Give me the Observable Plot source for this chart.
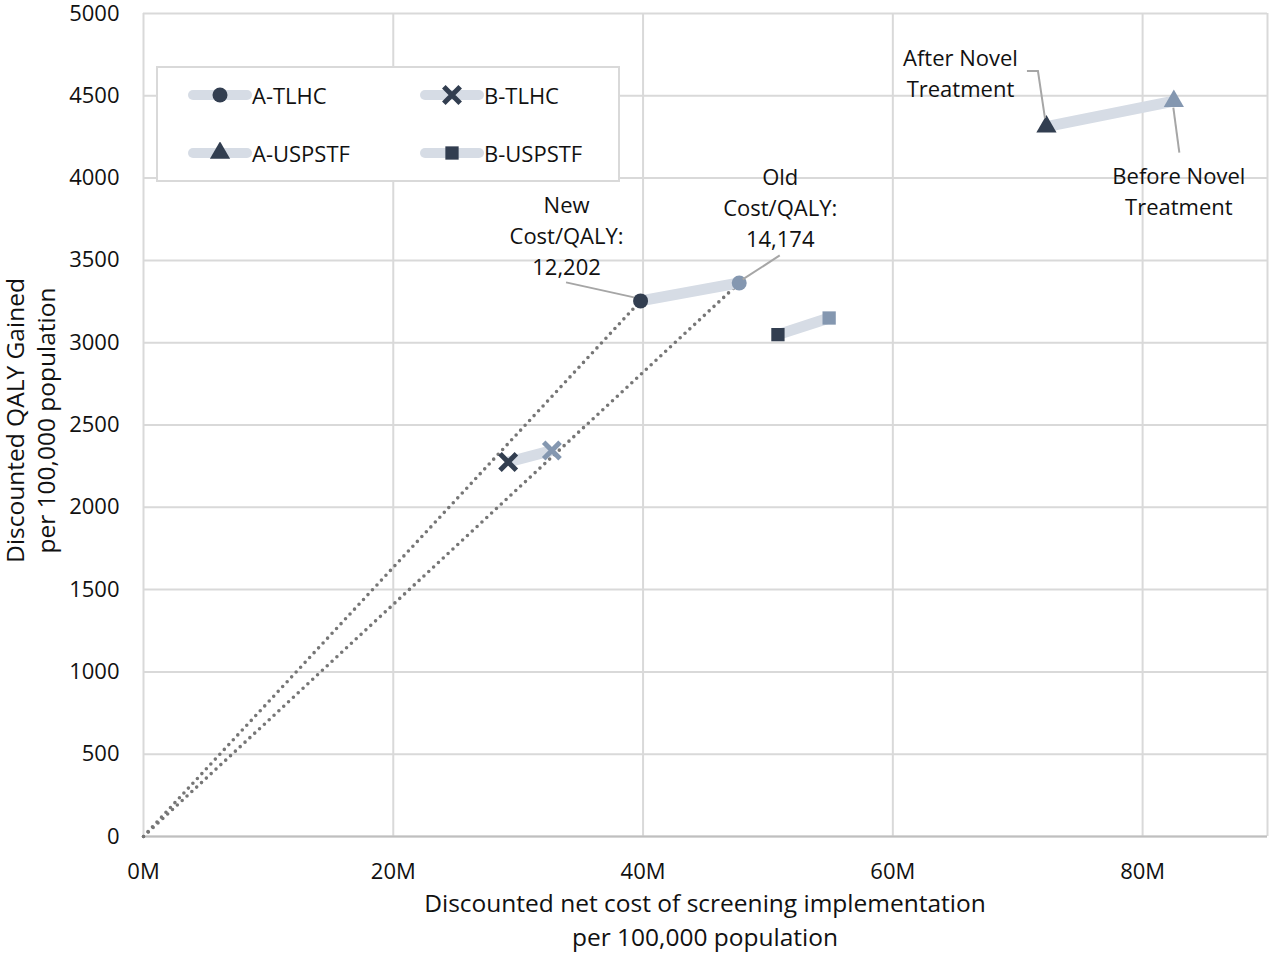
<!DOCTYPE html>
<html>
<head>
<meta charset="utf-8">
<script src="https://cdn.jsdelivr.net/npm/d3@7"></script>
<script src="https://cdn.jsdelivr.net/npm/@observablehq/plot@0.6"></script>
<style>
  html, body { margin: 0; padding: 0; background: #fff; }
  #wrap { position: relative; width: 1269px; height: 955px; font-family: "Open Sans", sans-serif; }
  #chart svg { overflow: visible; }
  #legend { position: absolute; left: 156px; top: 66px; width: 460px; height: 112px; border: 2px solid #d9d9d9; background: #fff; }
  .entry { position: absolute; display: flex; align-items: center; font-size: 22px; color: #111; }
  .entry svg { display: block; }
</style>
</head>
<body>
<div id="wrap"><div id="chart"></div><div id="legend"></div></div>
<script>
// ---- data ----
const series = ["A-TLHC", "B-TLHC", "A-USPSTF", "B-USPSTF"];
const symbols = ["circle", "times", "triangle", "square"];
// After novel treatment (new) — cost in millions, QALY gained
const costAfter = [39.8, 29.2, 72.3, 50.8];
const qalyAfter = [3254, 2275, 4313, 3049];
// Before novel treatment (old)
const costBefore = [47.7, 32.7, 82.5, 54.9];
const qalyBefore = [3363, 2345, 4468, 3150];
const xTicks = [0, 20, 40, 60, 80];
const yTicks = [0, 500, 1000, 1500, 2000, 2500, 3000, 3500, 4000, 4500, 5000];
const xLabel = ["Discounted net cost of screening implementation", "per 100,000 population"];
const yLabel = ["Discounted QALY Gained", "per 100,000 population"];
const noteTexts = ["New\nCost/QALY:\n12,202", "Old\nCost/QALY:\n14,174", "After Novel\nTreatment", "Before Novel\nTreatment"];

// ---- derived tables ----
const rowsAfter = series.map((s, i) => ({series: s, symbol: symbols[i], x: costAfter[i], y: qalyAfter[i]}));
const rowsBefore = series.map((s, i) => ({series: s, symbol: symbols[i], x: costBefore[i], y: qalyBefore[i]}));
const pairs = series.map((s, i) => ({series: s, x1: costAfter[i], y1: qalyAfter[i], x2: costBefore[i], y2: qalyBefore[i]}));
const refLines = [
  {x1: 0, y1: 0, x2: costAfter[0], y2: qalyAfter[0]},
  {x1: 0, y1: 0, x2: costBefore[0], y2: qalyBefore[0]}
];
// annotations anchored to data points; offsets are pixel styling
const notes = [
  {x: costAfter[0], y: qalyAfter[0], text: noteTexts[0], dx: -74, dy: -67, leader: [[-74, -18], [-6, -3]]},
  {x: costBefore[0], y: qalyBefore[0], text: noteTexts[1], dx: 41, dy: -77, leader: [[41, -27], [4, -3]]},
  {x: costAfter[2], y: qalyAfter[2], text: noteTexts[2], dx: -86, dy: -55.5, leader: [[-19, -55], [-8, -55], [-1, -8]]},
  {x: costBefore[2], y: qalyBefore[2], text: noteTexts[3], dx: 5, dy: 88.5, leader: [[0, 7], [6, 52]]}
];

const DARK = "#323e50", LIGHT = "#8497b0", PAIR = "#d6dce5", GRID = "#d9d9d9";
const FONT = "'Open Sans', sans-serif";

const leaders = (index, scales) => {
  const g = d3.create("svg:g");
  for (const n of notes) {
    const px = scales.x(n.x), py = scales.y(n.y);
    g.append("path")
      .attr("d", d3.line()(n.leader.map(([a, b]) => [px + a, py + b])))
      .attr("fill", "none").attr("stroke", "#a6a6a6").attr("stroke-width", 2);
  }
  return g.node();
};

const axisTitles = (index, scales, values, dims) => {
  const g = d3.create("svg:g").attr("font-family", FONT).attr("font-size", 24.5).attr("fill", "#111");
  const cx = (dims.marginLeft + dims.width - dims.marginRight) / 2;
  const cy = (dims.marginTop + dims.height - dims.marginBottom) / 2;
  xLabel.forEach((t, i) => g.append("text").attr("x", cx).attr("y", 905 + i * 34).attr("text-anchor", "middle").attr("dominant-baseline", "middle").text(t));
  yLabel.forEach((t, i) => g.append("text").attr("transform", `translate(${17 + i * 31},${cy - 4}) rotate(-90)`).attr("text-anchor", "middle").attr("dominant-baseline", "middle").text(t));
  return g.node();
};

const chart = Plot.plot({
  width: 1269,
  height: 955,
  marginLeft: 143,
  marginRight: 2,
  marginTop: 13,
  marginBottom: 119,
  style: {fontFamily: FONT, fontSize: "22px", color: "#111", background: "#fff", overflow: "visible"},
  x: {domain: [0, 90], ticks: xTicks, tickFormat: d => d + "M", tickSize: 0, tickPadding: 27, label: null},
  y: {domain: [0, 5000], ticks: yTicks, tickFormat: d => String(d), tickSize: 0, tickPadding: 24, label: null},
  symbol: {domain: symbols, range: symbols},
  marks: [
    Plot.ruleX(xTicks, {stroke: GRID, strokeWidth: 2}),
    Plot.ruleY(yTicks, {stroke: GRID, strokeWidth: 2}),
    Plot.ruleX([90], {stroke: GRID, strokeWidth: 2}),
    Plot.ruleY([0], {stroke: "#bfbfbf", strokeWidth: 2}),
    Plot.link(refLines, {x1: "x1", y1: "y1", x2: "x2", y2: "y2", stroke: "#767676", strokeWidth: 3.6, strokeDasharray: "0 6.6", strokeLinecap: "round"}),
    Plot.link(pairs, {x1: "x1", y1: "y1", x2: "x2", y2: "y2", stroke: PAIR, strokeWidth: 11, strokeLinecap: "butt"}),
    Plot.dot(rowsBefore.filter(d => d.symbol !== "times"), {x: "x", y: "y", symbol: "symbol", r: 7.5, fill: LIGHT, stroke: "none"}),
    Plot.dot(rowsBefore.filter(d => d.symbol === "times"), {x: "x", y: "y", symbol: "symbol", r: 7.5, stroke: LIGHT, strokeWidth: 5, fill: "none"}),
    Plot.dot(rowsAfter.filter(d => d.symbol !== "times"), {x: "x", y: "y", symbol: "symbol", r: 7.5, fill: DARK, stroke: "none"}),
    Plot.dot(rowsAfter.filter(d => d.symbol === "times"), {x: "x", y: "y", symbol: "symbol", r: 7.5, stroke: DARK, strokeWidth: 5, fill: "none"}),
    leaders,
    Plot.text(notes, {x: "x", y: "y", text: "text", lineAnchor: "middle", lineHeight: 1.41, fontSize: 22, fill: "#111", textAnchor: "middle"}),
    axisTitles
  ]
});
document.getElementById("chart").appendChild(chart);

// apply per-note pixel offsets
d3.select(chart).selectAll("g[aria-label='text'] text").each(function(d, i) {
  const n = notes[i];
  const sel = d3.select(this);
  const t = sel.attr("transform") || "";
  sel.attr("transform", t + ` translate(${n.dx},${n.dy})`);
});

// legend (HTML overlay)
const legend = d3.select("#legend");
const pos = [[30, 12], [262, 12], [30, 70], [262, 70]];
series.forEach((s, i) => {
  const e = legend.append("div").attr("class", "entry").style("left", pos[i][0] + "px").style("top", pos[i][1] + "px");
  const svg = e.append("svg").attr("width", 64).attr("height", 22);
  svg.append("line").attr("x1", 5).attr("x2", 59).attr("y1", 11).attr("y2", 11).attr("stroke", PAIR).attr("stroke-width", 10).attr("stroke-linecap", "round");
  const sym = {circle: d3.symbolCircle, times: d3.symbolTimes, triangle: d3.symbolTriangle, square: d3.symbolSquare}[symbols[i]];
  const r = 7.5;
  const p = svg.append("path").attr("transform", "translate(32,11)").attr("d", d3.symbol(sym, Math.PI * r * r)());
  if (symbols[i] === "times") p.attr("fill", "none").attr("stroke", DARK).attr("stroke-width", 5);
  else p.attr("fill", DARK);
  e.append("span").text(s);
});
</script>
</body>
</html>
